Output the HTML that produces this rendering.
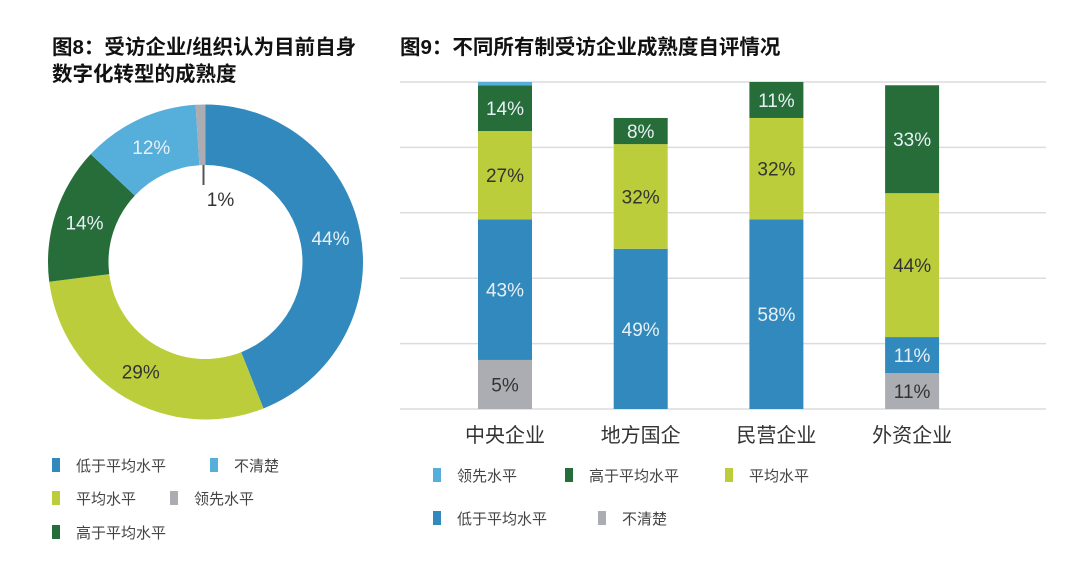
<!DOCTYPE html>
<html><head><meta charset="utf-8"><style>
body{margin:0;width:1080px;height:567px;background:#fff;overflow:hidden;font-family:"Liberation Sans","Noto Sans CJK SC",sans-serif;}
svg text{font-family:"Liberation Sans","Noto Sans CJK SC",sans-serif;}
</style></head><body>
<svg id="svg" width="1080" height="567" viewBox="0 0 1080 567">
<text x="52" y="54" font-size="20.5" font-weight="bold" fill="#111">图8：受访企业/组织认为目前自身</text>
<text x="52" y="81" font-size="20.5" font-weight="bold" fill="#111">数字化转型的成熟度</text>
<text x="400" y="54" font-size="20.5" font-weight="bold" fill="#111">图9：不同所有制受访企业成熟度自评情况</text>
<g id="donut"></g>
<g id="grid"></g>
<g id="bars"></g>
<g id="legends"></g>
</svg>
<script>
const donutCats=["低于平均水平","平均水平","高于平均水平","不清楚","领先水平"];
const donutVals=[44,29,14,12,1];
const donutColors=["#3189bd","#bccd3b","#266d3a","#56aedb","#abadb2"];
const barCats=["中央企业","地方国企","民营企业","外资企业"];
const seriesNames=["不清楚","低于平均水平","平均水平","高于平均水平","领先水平"];
const seriesColors=["#abadb2","#3189bd","#bccd3b","#266d3a","#56aedb"];
const sNotClear=[15,0,0,11];
const sBelow=[43,49,58,11];
const sAvg=[27,32,31,44];
const sAbove=[14,8,11,33];
const sLead=[1,0,0,0];
const labNotClear=["5%","11%","","11%"];
const labBelow=["43%","49%","58%","11%"];
const labAvg=["27%","32%","32%","44%"];
const labAbove=["14%","8%","11%","33%"];
const labLead=["","","",""];
const NS="http://www.w3.org/2000/svg";
function mk(t,a,p){const e=document.createElementNS(NS,t);for(const k in a)e.setAttribute(k,a[k]);p.appendChild(e);return e;}
// donut
const dg=document.getElementById('donut');
const cx=205.5,cy=262,R=157.5,r=97;
const tot=donutVals.reduce((a,b)=>a+b,0);
let ang=0;
const pt=(rad,a)=>[cx+rad*Math.sin(a),cy-rad*Math.cos(a)];
donutVals.forEach((v,i)=>{
 const a0=ang/tot*2*Math.PI,a1=(ang+v)/tot*2*Math.PI;ang+=v;
 const big=(a1-a0)>Math.PI?1:0;
 const [x0,y0]=pt(R,a0),[x1,y1]=pt(R,a1),[x2,y2]=pt(r,a1),[x3,y3]=pt(r,a0);
 const p=mk('path',{d:`M${x0},${y0}A${R},${R} 0 ${big} 1 ${x1},${y1}L${x2},${y2}A${r},${r} 0 ${big} 0 ${x3},${y3}Z`,fill:donutColors[i]},dg);
 
 
 const am=(a0+a1)/2;
 let [lx,ly]=pt((R+r)/2,am);
 let fill=(i===1)?"#333":"#e8f0f5";
 if(v<3){const l=mk('line',{x1:cx-2,y1:cy-r,x2:cx-2,y2:cy-r+20,stroke:'#555','stroke-width':2},dg);lx=cx+15;ly=cy-r+34;fill="#333";}
 const t=mk('text',{x:lx,y:ly+7,'font-size':19,'text-anchor':'middle',fill:fill},dg);
 t.textContent=v+"%";
 
 
});
// bars
const yTop=82,yBot=409,ph=yBot-yTop;
const yS=v=>yBot-v/100*ph;
const gg=document.getElementById('grid');
for(let k=0;k<=5;k++){const y=yTop+k*ph/5;const l=mk('line',{x1:400,x2:1046,y1:y,y2:y,stroke:'#dcdcdc','stroke-width':1.5},gg);}
const bg=document.getElementById('bars');
const series=[sNotClear,sBelow,sAvg,sAbove,sLead];
const labs=[labNotClear,labBelow,labAvg,labAbove,labLead];
const xC=i=>505+i*135.7, bw=54;
barCats.forEach((c,i)=>{
 let acc=0;
 series.forEach((s,j)=>{
  const v=s[i];if(!v)return;
  const y1=yS(acc),y0=yS(acc+v);acc+=v;
  const rc=mk('rect',{x:xC(i)-bw/2,y:y0,width:bw,height:y1-y0,fill:seriesColors[j]},bg);
  
  
  if(labs[j][i]){
   const t=mk('text',{x:xC(i),y:(y0+y1)/2+7,'font-size':19,'text-anchor':'middle',fill:(j===0||j===2)?'#333':'#e8f0f5'},bg);
   t.textContent=labs[j][i];
   
   
  }
 });
 const t=mk('text',{x:xC(i),y:442,'font-size':20,'text-anchor':'middle',fill:'#333'},bg);
 t.textContent=c;
 
 
});
// legends
const legG=document.getElementById('legends');
const legItems=[[52,466,"#3189bd","低于平均水平"],[210,466,"#56aedb","不清楚"],[52,499,"#bccd3b","平均水平"],[170,499,"#abadb2","领先水平"],[52,533,"#266d3a","高于平均水平"],
[433,476,"#56aedb","领先水平"],[565,476,"#266d3a","高于平均水平"],[725,476,"#bccd3b","平均水平"],[433,519,"#3189bd","低于平均水平"],[598,519,"#abadb2","不清楚"]];
legItems.forEach(e=>{
 const rc=mk('rect',{x:e[0],y:e[1]-8,width:8,height:14,fill:e[2]},legG);
 
 
 const t=mk('text',{x:e[0]+24,y:e[1]+5,'font-size':15,fill:'#444'},legG);
 t.textContent=e[3];
 
 
});
</script>
</body></html>
